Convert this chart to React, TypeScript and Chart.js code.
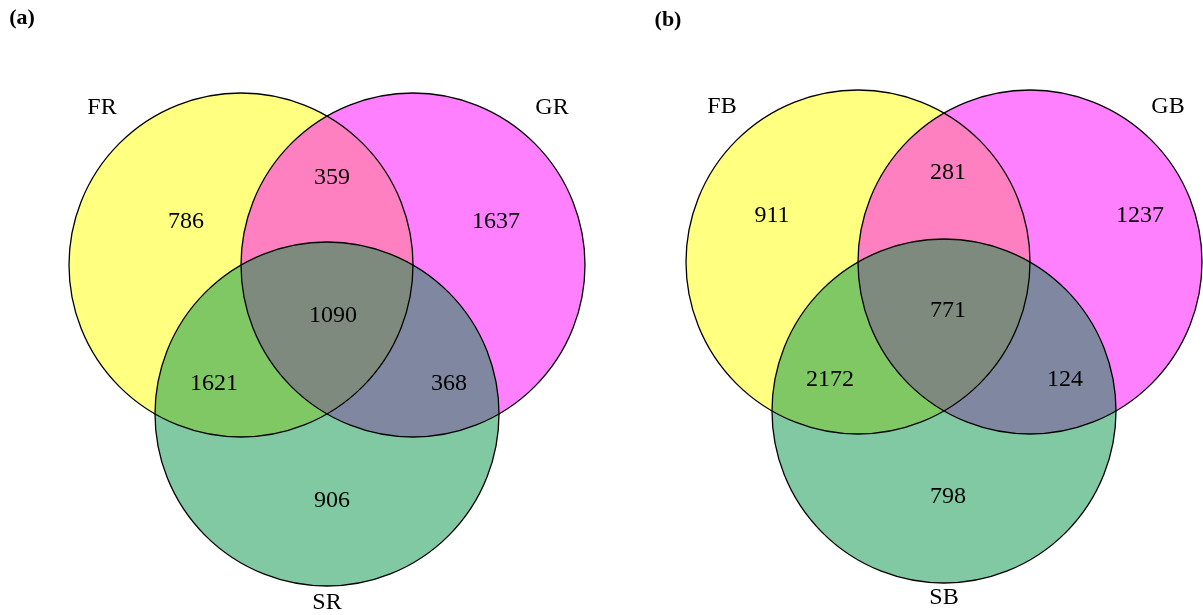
import { useEffect, useRef } from 'react';
import { Chart, registerables } from 'chart.js';
Chart.register(...registerables);

// ---- data ----
const PANEL_TITLES = ['(a)', '(b)'];
const SETS_A = ['FR', 'GR', 'SR'];
const SETS_B = ['FB', 'GB', 'SB'];
// region order: only1, only2, only3, 1∩2, 1∩3, 2∩3, 1∩2∩3
const COUNTS_A = [786, 1637, 906, 359, 1621, 368, 1090];
const COUNTS_B = [911, 1237, 798, 281, 2172, 124, 771];

// circle layout (data units of the drawing space)
const RADIUS = 172;
const CIRCLE_X_A = [241, 413, 327];
const CIRCLE_Y_A = [265, 265, 414];
const CIRCLE_X_B = [858, 1030, 944];
const CIRCLE_Y_B = [262, 262, 411];

// count label anchors (same region order as counts)
const COUNT_X_A = [186, 496, 332, 332, 214, 449, 333];
const COUNT_Y_A = [222, 222, 501, 178, 384, 384, 316];
const COUNT_X_B = [772, 1140, 948, 948, 830, 1065, 948];
const COUNT_Y_B = [216, 216, 497, 173, 380, 380, 311];

// set label anchors
const SET_X_A = [102, 552, 327];
const SET_Y_A = [108, 108, 603];
const SET_X_B = [722, 1168, 944];
const SET_Y_B = [107, 107, 598];

const TITLE_X = [22, 668];
const TITLE_Y = [18, 20];

const BASE_COLORS = ['#FFFF80', '#FF80FF', '#80C9A2'];
const PAIR_COLORS = ['#FF80C0', '#80C864', '#7F88A0'];
const TRIPLE_COLOR = '#7F8A7F';

const PAIRS = [[0, 1], [0, 2], [1, 2]];

const panels = [
  { title: PANEL_TITLES[0], sets: SETS_A, counts: COUNTS_A, cx: CIRCLE_X_A, cy: CIRCLE_Y_A, lx: COUNT_X_A, ly: COUNT_Y_A, sx: SET_X_A, sy: SET_Y_A, tx: TITLE_X[0], ty: TITLE_Y[0] },
  { title: PANEL_TITLES[1], sets: SETS_B, counts: COUNTS_B, cx: CIRCLE_X_B, cy: CIRCLE_Y_B, lx: COUNT_X_B, ly: COUNT_Y_B, sx: SET_X_B, sy: SET_Y_B, tx: TITLE_X[1], ty: TITLE_Y[1] },
];

const SERIF = '"Liberation Serif", "DejaVu Serif", serif';

const vennPlugin = {
  id: 'venn',
  beforeDatasetsDraw(chart: any) {
    const ctx = chart.ctx as CanvasRenderingContext2D;
    const xs = chart.scales.x;
    const ys = chart.scales.y;
    panels.forEach((p) => {
      const cs = p.cx.map((x, i) => {
        const px = xs.getPixelForValue(x);
        return { x: px, y: ys.getPixelForValue(p.cy[i]), r: xs.getPixelForValue(x + RADIUS) - px };
      });
      const path = (c: any) => {
        ctx.beginPath();
        ctx.arc(c.x, c.y, c.r, 0, Math.PI * 2);
        ctx.closePath();
      };
      ctx.save();
      cs.forEach((c, i) => {
        path(c);
        ctx.fillStyle = BASE_COLORS[i];
        ctx.fill();
      });
      PAIRS.forEach(([a, b], k) => {
        ctx.save();
        path(cs[a]);
        ctx.clip();
        path(cs[b]);
        ctx.fillStyle = PAIR_COLORS[k];
        ctx.fill();
        ctx.restore();
      });
      ctx.save();
      path(cs[0]);
      ctx.clip();
      path(cs[1]);
      ctx.clip();
      path(cs[2]);
      ctx.fillStyle = TRIPLE_COLOR;
      ctx.fill();
      ctx.restore();
      ctx.lineWidth = 1.3;
      ctx.strokeStyle = '#000000';
      cs.forEach((c) => {
        path(c);
        ctx.stroke();
      });
      ctx.restore();
    });
  },
  afterDatasetsDraw(chart: any) {
    const ctx = chart.ctx as CanvasRenderingContext2D;
    const xs = chart.scales.x;
    const ys = chart.scales.y;
    ctx.save();
    ctx.fillStyle = '#000000';
    ctx.textAlign = 'center';
    ctx.textBaseline = 'middle';
    panels.forEach((p) => {
      ctx.font = `24px ${SERIF}`;
      p.counts.forEach((v, i) => {
        ctx.fillText(String(v), xs.getPixelForValue(p.lx[i]), ys.getPixelForValue(p.ly[i]));
      });
      ctx.font = `24px ${SERIF}`;
      p.sets.forEach((s, i) => {
        ctx.fillText(s, xs.getPixelForValue(p.sx[i]), ys.getPixelForValue(p.sy[i]));
      });
      ctx.font = `bold 22px ${SERIF}`;
      ctx.fillText(p.title, xs.getPixelForValue(p.tx), ys.getPixelForValue(p.ty));
    });
    ctx.restore();
  },
};

export default function App() {
  const ref = useRef<HTMLCanvasElement>(null);
  useEffect(() => {
    document.body.style.margin = '0';
    const datasets = panels.map((p) => ({
      label: p.title,
      data: p.counts.map((v, i) => ({ x: p.lx[i], y: p.ly[i], v })),
      pointRadius: 0,
      pointHoverRadius: 0,
      showLine: false,
    }));
    const chart = new Chart(ref.current!, {
      type: 'scatter',
      data: { datasets },
      options: {
        animation: false,
        responsive: false,
        devicePixelRatio: 1,
        layout: { padding: 0 },
        plugins: { legend: { display: false }, tooltip: { enabled: false } },
        events: [],
        scales: {
          x: { type: 'linear', min: 0, max: 1203, display: false },
          y: { type: 'linear', min: 0, max: 615, reverse: true, display: false },
        },
      },
      plugins: [vennPlugin],
    });
    return () => chart.destroy();
  }, []);
  return <canvas ref={ref} width={1203} height={615} style={{ display: 'block', width: 1203, height: 615 }} />;
}
